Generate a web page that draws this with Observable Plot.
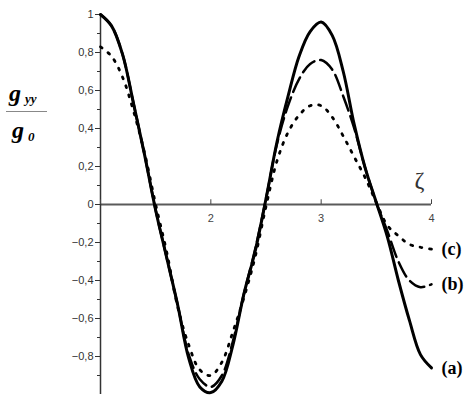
<!DOCTYPE html>
<html>
<head>
<meta charset="utf-8">
<script src="https://cdn.jsdelivr.net/npm/d3@7"></script>
<script src="https://cdn.jsdelivr.net/npm/@observablehq/plot@0.6"></script>
<style>
  html, body { margin: 0; padding: 0; background: #fff; }
</style>
</head>
<body>
<div id="chart"></div>
<script>
// ζ sample positions
const zeta = [1.0, 1.1, 1.2, 1.3, 1.4, 1.5, 1.6, 1.7, 1.8, 1.9,
              2.0, 2.1, 2.2, 2.3, 2.4, 2.5, 2.6, 2.7, 2.8, 2.9,
              3.0, 3.1, 3.2, 3.3, 3.4, 3.5, 3.6, 3.7, 3.8, 3.9, 4.0];
// (a) solid
const curveA = [1.00, 0.94, 0.79, 0.53, 0.26, -0.03, -0.28, -0.53, -0.81, -0.96,
                -0.99, -0.93, -0.74, -0.47, -0.25, 0.03, 0.33, 0.57, 0.78, 0.91,
                0.96, 0.89, 0.70, 0.42, 0.19, 0.01, -0.17, -0.40, -0.61, -0.79, -0.86];
// (b) dashed
const curveB = [1.00, 0.94, 0.79, 0.53, 0.26, -0.03, -0.28, -0.53, -0.79, -0.92,
                -0.96, -0.90, -0.72, -0.47, -0.24, 0.03, 0.32, 0.52, 0.66, 0.74,
                0.76, 0.71, 0.57, 0.40, 0.19, 0.01, -0.14, -0.30, -0.40, -0.435, -0.42];
// (c) dotted
const curveC = [0.83, 0.78, 0.67, 0.49, 0.27, 0.00, -0.25, -0.54, -0.74, -0.87,
                -0.90, -0.83, -0.67, -0.49, -0.28, -0.01, 0.23, 0.38, 0.47, 0.52,
                0.52, 0.46, 0.36, 0.25, 0.14, 0.01, -0.11, -0.165, -0.21, -0.225, -0.235];

const curveLabels = ["(a)", "(b)", "(c)"];
const yMajor = [-0.8, -0.6, -0.4, -0.2, 0, 0.2, 0.4, 0.6, 0.8, 1];
const yMinor = [-0.9, -0.7, -0.5, -0.3, -0.1, 0.1, 0.3, 0.5, 0.7, 0.9];
const xTicks = [1, 2, 3, 4];
const xTickLabels = [2, 3, 4];
const xAxisLabel = "ζ";

const fmt = d => (d < 0 ? "\u2212" : "") + String(Math.abs(d)).replace(".", ",");
const rows = arr => zeta.map((z, i) => ({z, v: arr[i]}));
const ends = [curveA, curveB, curveC].map(a => a[a.length - 1]);

const plot = Plot.plot({
  width: 473,
  height: 404,
  marginLeft: 100,
  marginRight: 42,
  marginTop: 14,
  marginBottom: 10,
  x: {domain: [1, 4], axis: null},
  y: {domain: [-1, 1], axis: null},
  style: {background: "#fff", fontFamily: "Liberation Sans, Arial, sans-serif", fontSize: "11px"},
  marks: [
    Plot.ruleY([0], {x1: 1, x2: 4, stroke: "#5a5a5a", strokeWidth: 2}),
    Plot.ruleX([1], {y1: -1, y2: 1, stroke: "#333", strokeWidth: 1.5}),
    Plot.axisY(yMajor, {anchor: "left", tickSize: 5, tickPadding: 2, tickFormat: fmt, label: null, stroke: "#333", fill: "#333", fontSize: 11}),
    Plot.axisY(yMinor, {anchor: "left", tickSize: 3, tickFormat: () => "", label: null, stroke: "#333"}),
    Plot.ruleX(xTicks, {x: d => d, y1: 0, y2: 0.025, stroke: "#444", strokeWidth: 1}),
    Plot.text(xTickLabels, {x: d => d, y: 0, dy: 14, text: d => String(d), fill: "#444", fontSize: 11}),
    Plot.line(rows(curveA), {x: "z", y: "v", stroke: "#000", strokeWidth: 3, curve: "catmull-rom"}),
    Plot.line(rows(curveB), {x: "z", y: "v", stroke: "#000", strokeWidth: 2.5, strokeDasharray: "16,6", curve: "catmull-rom"}),
    Plot.line(rows(curveC), {x: "z", y: "v", stroke: "#000", strokeWidth: 2.8, strokeDasharray: "2,7.5", curve: "catmull-rom"}),
    Plot.text(curveLabels, {x: () => 4, y: (d, i) => ends[i], text: d => d, dx: 10, textAnchor: "start",
      fontFamily: "Liberation Serif, Times New Roman, serif", fontWeight: "bold", fontSize: 18, fill: "#000"}),
    Plot.text([xAxisLabel], {x: () => 4, y: () => 0, text: d => d, dx: -12, dy: -24,
      fontFamily: "Liberation Serif, Times New Roman, serif", fontSize: 24, fill: "#333"})
  ]
});

document.getElementById("chart").append(plot);

// y-axis fraction label g_yy / g_0
const svg = d3.select(plot);
const yl = svg.append("g")
  .attr("text-anchor", "start")
  .attr("font-family", "Liberation Serif, Times New Roman, serif")
  .attr("font-weight", "bold")
  .attr("font-style", "italic")
  .attr("fill", "#000");
const t1 = yl.append("text").attr("x", 9).attr("y", 101).attr("font-size", 24);
t1.append("tspan").text("g");
t1.append("tspan").attr("dx", 4).attr("dy", 2).attr("font-size", 13).text("yy");
yl.append("line").attr("x1", 6).attr("x2", 47).attr("y1", 111.5).attr("y2", 111.5)
  .attr("stroke", "#888").attr("stroke-width", 1);
const t2 = yl.append("text").attr("x", 12).attr("y", 138).attr("font-size", 24);
t2.append("tspan").text("g");
t2.append("tspan").attr("dx", 4).attr("dy", 3).attr("font-size", 13).text("0");
</script>
</body>
</html>
